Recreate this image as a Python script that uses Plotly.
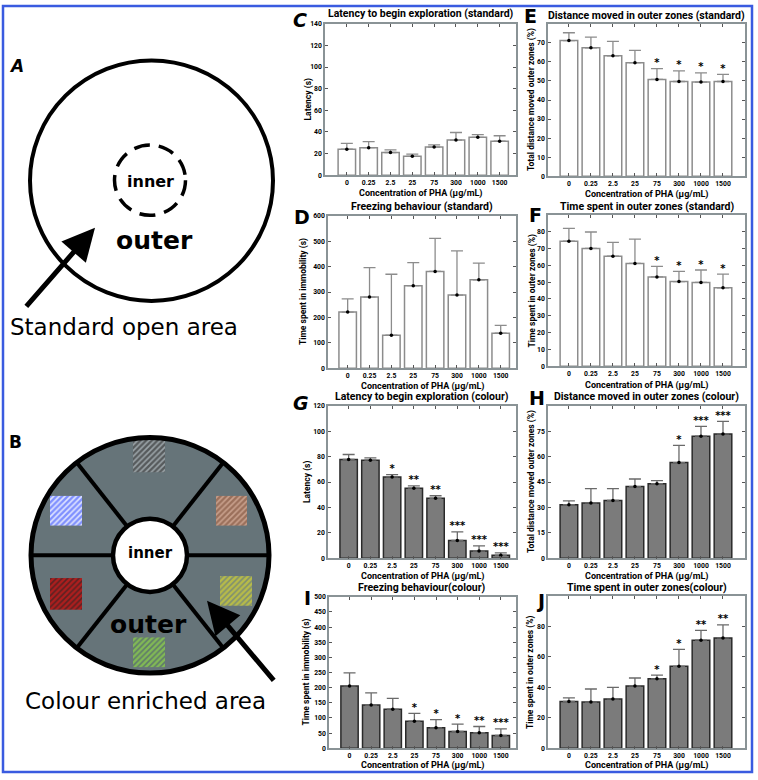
import math
import plotly.graph_objects as go

W, H = 758, 780

# ---------------- data ----------------
categories = ["0", "0.25", "2.5", "25", "75", "300", "1000", "1500"]

# C: latency to begin exploration (standard)
latency_std = [24, 25.5, 21, 17.5, 26, 32.5, 35, 31.5]
latency_std_err = [5.5, 5.5, 2.5, 2, 2, 7, 2.5, 5]
latency_std_sig = ["", "", "", "", "", "", "", ""]

# E: distance moved in outer zones (standard)
distance_std = [71.2, 67.4, 63.2, 59.6, 50.8, 49.7, 49.4, 49.7]
distance_std_err = [4.1, 5.6, 7.6, 6.4, 5.7, 5.6, 4.8, 3.8]
distance_std_sig = ["", "", "", "", "*", "*", "*", "*"]

# D: freezing behaviour (standard)
freezing_std = [221, 280, 130, 325, 381, 288, 348, 138]
freezing_std_err = [52, 116, 240, 91, 130, 174, 66, 31]
freezing_std_sig = ["", "", "", "", "", "", "", ""]

# F: time spent in outer zones (standard)
time_std = [74.3, 70.0, 65.4, 61.1, 53.1, 50.3, 49.8, 46.6]
time_std_err = [7.7, 9.8, 8.2, 14.4, 6.2, 6.1, 7.4, 8.2]
time_std_sig = ["", "", "", "", "*", "*", "*", "*"]

# G: latency to begin exploration (colour)
latency_col = [77.8, 77.2, 64.0, 55.2, 47.2, 14.0, 5.7, 2.3]
latency_col_err = [3.9, 1.8, 1.8, 1.8, 2.0, 6.7, 4.1, 2.0]
latency_col_sig = ["", "", "*", "**", "**", "***", "***", "***"]

# H: distance moved in outer zones (colour)
distance_col = [31.6, 32.7, 34.1, 42.3, 44.0, 56.5, 72.1, 73.4]
distance_col_err = [2.3, 8.4, 7.0, 4.5, 1.8, 10.1, 5.8, 7.4]
distance_col_sig = ["", "", "", "", "", "*", "***", "***"]

# I: freezing behaviour (colour)
freezing_col = [206, 143, 129, 89.5, 67.7, 55.7, 51.3, 42.6]
freezing_col_err = [43, 40, 36, 26, 27, 24, 20.7, 21.8]
freezing_col_sig = ["", "", "", "*", "*", "*", "**", "***"]

# J: time spent in outer zones (colour)
time_col = [30.7, 30.3, 32.4, 40.9, 45.6, 53.8, 70.9, 72.4]
time_col_err = [2.4, 8.6, 7.6, 5.2, 2.4, 11.1, 6.5, 8.6]
time_col_sig = ["", "", "", "", "*", "*", "**", "**"]

x_title = "Concentration of PHA (\u00b5g/mL)"

# ---------------- helpers ----------------
def fx(p):
    return p / W

def fy(p):
    return 1 - p / H

FONT = "Roboto"
AXC = "#8a9396"

panels = [
    dict(letter="C", title="Latency to begin exploration (standard)", ytitle="Latency (s)",
         vals=latency_std, err=latency_std_err, sig=latency_std_sig, col=False,
         xd=(325, 516), yd=(20, 173), yr=(0, 140), tv=list(range(0, 141, 20)),
         lp=(300, 16), ytx=309, ty=10, xty=191, xr=(-1, 7.75), italic=True),
    dict(letter="E", title="Distance moved in outer zones (standard)",
         ytitle="Total distance moved outer zones (%)",
         vals=distance_std, err=distance_std_err, sig=distance_std_sig, col=False,
         xd=(548, 745), yd=(20, 174), yr=(0, 80), tv=list(range(0, 71, 10)),
         lp=(530, 12), ytx=531, ty=12, xty=192, xr=(-0.95, 8.0), italic=False),
    dict(letter="D", title="Freezing behaviour (standard)", ytitle="Time spent in immobility (s)",
         vals=freezing_std, err=freezing_std_err, sig=freezing_std_sig, col=False,
         xd=(328, 516), yd=(214, 368), yr=(0, 600), tv=list(range(0, 601, 100)),
         lp=(302, 215), ytx=303, ty=205, xty=386, xr=(-0.9, 7.7), italic=False),
    dict(letter="F", title="Time spent in outer zones (standard)", ytitle="Time spent in outer zones (%)",
         vals=time_std, err=time_std_err, sig=time_std_sig, col=False,
         xd=(548, 745), yd=(213, 366), yr=(0, 90), tv=list(range(0, 81, 10)),
         lp=(535, 213), ytx=533, ty=205, xty=385, xr=(-0.95, 8.0), italic=False),
    dict(letter="G", title="Latency to begin exploration (colour)", ytitle="Latency (s)",
         vals=latency_col, err=latency_col_err, sig=latency_col_sig, col=True,
         xd=(328, 516), yd=(406, 560), yr=(0, 120), tv=list(range(0, 121, 20)),
         lp=(301, 403), ytx=307, ty=397, xty=578, xr=(-0.95, 7.7), italic=True),
    dict(letter="H", title="Distance moved in outer zones (colour)",
         ytitle="Total distance moved outer zones (%)",
         vals=distance_col, err=distance_col_err, sig=distance_col_sig, col=True,
         xd=(548, 745), yd=(406, 560), yr=(0, 90), tv=list(range(0, 76, 15)),
         lp=(537, 398), ytx=531, ty=397, xty=578, xr=(-0.95, 8.0), italic=False),
    dict(letter="I", title="Freezing behaviour(colour)", ytitle="Time spent in immobility (s)",
         vals=freezing_col, err=freezing_col_err, sig=freezing_col_sig, col=True,
         xd=(329, 516), yd=(599, 752), yr=(0, 500), tv=list(range(0, 501, 50)),
         lp=(307, 600), ytx=307, ty=590, xty=769, xr=(-0.95, 7.7), italic=False),
    dict(letter="J", title="Time spent in outer zones(colour)", ytitle="Time spent in outer zones (%)",
         vals=time_col, err=time_col_err, sig=time_col_sig, col=True,
         xd=(548, 745), yd=(598, 752), yr=(0, 100), tv=list(range(0, 81, 20)),
         lp=(540, 603), ytx=530, ty=590, xty=769, xr=(-0.95, 8.0), italic=False),
]

fig = go.Figure()
annotations = []
shapes = []
layout_axes = {}

for i, p in enumerate(panels, start=1):
    xa, ya = f"x{i}", f"y{i}"
    if p["col"]:
        fill, outline, errc = "#7b7b7b", "#2a2a2a", "#6a6a6a"
    else:
        fill, outline, errc = "white", "#8c8c8c", "#8c8c8c"
    fig.add_trace(go.Bar(
        x=categories, y=p["vals"], width=0.8,
        marker=dict(color=fill, line=dict(color=outline, width=1.5)),
        error_y=dict(type="data", symmetric=False, array=p["err"],
                     arrayminus=[0] * len(p["err"]), color=errc, thickness=1.3, width=6),
        xaxis=xa, yaxis=ya, showlegend=False, hoverinfo="skip"))
    fig.add_trace(go.Scatter(
        x=categories, y=p["vals"], mode="markers",
        marker=dict(size=3.5, color="black"),
        xaxis=xa, yaxis=ya, showlegend=False, hoverinfo="skip"))
    tops = [v + e for v, e in zip(p["vals"], p["err"])]
    if any(p["sig"]):
        fig.add_trace(go.Scatter(
            x=categories, y=tops, mode="text", text=p["sig"],
            textposition="top center",
            textfont=dict(family="DejaVu Sans", size=10, color="black", weight="bold"),
            xaxis=xa, yaxis=ya, showlegend=False, hoverinfo="skip"))
    axcommon = dict(showline=True, linecolor=AXC, linewidth=1.5, mirror="ticks",
                    ticks="inside", ticklen=3, tickcolor="#555", tickwidth=1.2,
                    showgrid=False, zeroline=False, fixedrange=True,
                    tickfont=dict(family=FONT, size=6.8, color="black", weight="bold"))
    layout_axes[f"xaxis{i}"] = dict(domain=[fx(p["xd"][0]), fx(p["xd"][1])], anchor=ya,
                                    range=list(p["xr"]), type="category", **axcommon)
    layout_axes[f"yaxis{i}"] = dict(domain=[fy(p["yd"][1]), fy(p["yd"][0])], anchor=xa,
                                    range=list(p["yr"]), tickvals=p["tv"], **axcommon)
    cx = (p["xd"][0] + p["xd"][1]) / 2
    cy = (p["yd"][0] + p["yd"][1]) / 2
    annotations.append(dict(text=p["title"], x=fx(cx), y=fy(p["ty"]), xref="paper", yref="paper",
                            showarrow=False, xanchor="center", yanchor="middle",
                            font=dict(family=FONT, size=10.5, color="black", weight="bold")))
    annotations.append(dict(text=x_title, x=fx(cx), y=fy(p["xty"]), xref="paper", yref="paper",
                            showarrow=False, xanchor="center", yanchor="middle",
                            font=dict(family=FONT, size=9, color="black", weight="bold")))
    annotations.append(dict(text=p["ytitle"], x=fx(p["ytx"]), y=fy(cy), xref="paper", yref="paper",
                            showarrow=False, xanchor="center", yanchor="middle", textangle=-90,
                            font=dict(family=FONT, size=8.5, color="black", weight="bold")))
    annotations.append(dict(text=p["letter"], x=fx(p["lp"][0]), y=fy(p["lp"][1]),
                            xref="paper", yref="paper", showarrow=False,
                            xanchor="center", yanchor="middle",
                            font=dict(family="DejaVu Sans", size=19, color="black", weight="bold",
                                      style="italic" if p["italic"] else "normal")))

# ---------------- diagrams (A, B) on a pixel-coordinate overlay axis ----------------
layout_axes["xaxis9"] = dict(domain=[0, 1], range=[0, W], visible=False, fixedrange=True, anchor="y9")
layout_axes["yaxis9"] = dict(domain=[0, 1], range=[H, 0], visible=False, fixedrange=True, anchor="x9")

def circ(cx, cy, r, **kw):
    d = dict(type="circle", xref="x9", yref="y9", x0=cx - r, x1=cx + r, y0=cy - r, y1=cy + r)
    d.update(kw)
    return d

# A
shapes.append(circ(151.5, 178.5, 121.5, line=dict(color="black", width=4)))
shapes.append(circ(150, 178, 35.5, line=dict(color="black", width=3.5, dash="16px,9px")))

# B
bcx, bcy, br, bri = 150, 557, 119, 37
shapes.append(circ(bcx, bcy, br, fillcolor="#667479", line=dict(width=0), layer="below"))

squares = [  # x0, x1, y0, y1, fg, bg
    (133, 165, 440, 473, "#111111", "#9aa3a7"),
    (50, 82, 497, 527, "#1f3cff", "#dfe4ff"),
    (216, 247, 497, 527, "#6e3f2a", "#c8a08c"),
    (50, 82, 580, 612, "#ff1a1a", "#5a2222"),
    (220, 252, 578, 608, "#f0e820", "#7f8f70"),
    (133, 165, 640, 670, "#a4f840", "#5f7a6a"),
]
for x0, x1, y0, y1, fg, bg in squares:
    fig.add_trace(go.Scatter(
        x=[x0, x1, x1, x0, x0], y=[y0, y0, y1, y1, y0], mode="lines", fill="toself",
        line=dict(width=0), fillcolor=bg,
        fillpattern=dict(shape="/", fgcolor=fg, bgcolor=bg, size=4, solidity=0.6),
        xaxis="x9", yaxis="y9", showlegend=False, hoverinfo="skip"))

for ang in [0, 52, 128, 180, 232, 308]:
    a = math.radians(ang)
    shapes.append(dict(type="line", xref="x9", yref="y9",
                       x0=bcx + bri * math.cos(a), y0=bcy - bri * math.sin(a),
                       x1=bcx + br * math.cos(a), y1=bcy - br * math.sin(a),
                       line=dict(color="black", width=4)))
shapes.append(circ(bcx, bcy, br, line=dict(color="black", width=5)))
shapes.append(circ(bcx, bcy, bri, fillcolor="white", line=dict(color="black", width=4.5)))

# frame
shapes.append(dict(type="rect", xref="paper", yref="paper", x0=fx(3), x1=fx(752),
                   y0=fy(776), y1=fy(2), line=dict(color="#3a5be0", width=2.5)))

def txt(s, x, y, size, bold=False, italic=False):
    annotations.append(dict(text=s, x=x, y=y, xref="x9", yref="y9", showarrow=False,
                            xanchor="center", yanchor="middle",
                            font=dict(family="DejaVu Sans", size=size, color="black",
                                      weight="bold" if bold else "normal",
                                      style="italic" if italic else "normal")))

txt("A", 16, 63, 17, bold=True, italic=True)
txt("inner", 150, 179, 16, bold=True)
txt("outer", 154, 239, 25, bold=True)
txt("Standard open area", 124, 326, 23)
txt("B", 15, 443, 17, bold=True)
txt("inner", 150, 555, 15, bold=True)
txt("outer", 148, 627, 25, bold=True)
txt("Colour enriched area", 145, 704, 23)

# arrows
annotations.append(dict(x=95, y=226, ax=25, ay=307, xref="x9", yref="y9", axref="x9", ayref="y9",
                        text="", showarrow=True, arrowhead=2, arrowsize=1.3, arrowwidth=5,
                        arrowcolor="black"))
annotations.append(dict(x=207, y=603, ax=275, ay=685, xref="x9", yref="y9", axref="x9", ayref="y9",
                        text="", showarrow=True, arrowhead=2, arrowsize=1.3, arrowwidth=5,
                        arrowcolor="black"))

fig.update_layout(
    width=W, height=H, autosize=False,
    margin=dict(l=0, r=0, t=0, b=0, pad=0),
    paper_bgcolor="white", plot_bgcolor="rgba(0,0,0,0)",
    showlegend=False, bargap=0.2,
    annotations=annotations, shapes=shapes,
    **layout_axes,
)

fig.write_html("out.html", config={"displayModeBar": False},
               post_script="document.body.style.margin='0';document.body.style.overflow='hidden';")
